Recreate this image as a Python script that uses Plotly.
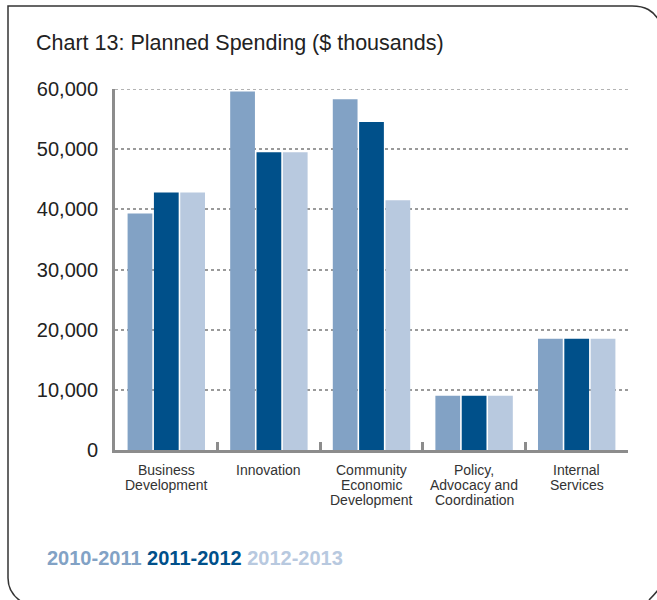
import plotly.graph_objects as go

categories = ["Business<br>Development", "Innovation", "Community<br>Economic<br>Development",
              "Policy,<br>Advocacy and<br>Coordination", "Internal<br>Services"]
series_names = ["2010-2011", "2011-2012", "2012-2013"]
values_2010 = [39300, 59600, 58300, 9000, 18500]
values_2011 = [42800, 49500, 54500, 9000, 18500]
values_2012 = [42800, 49500, 41500, 9000, 18500]
colors = ["#82a2c5", "#00508a", "#b8c9df"]
ytick_vals = [0, 10000, 20000, 30000, 40000, 50000, 60000]
ytick_text = ["0", "10,000", "20,000", "30,000", "40,000", "50,000", "60,000"]

W, H = 657, 600
L, R, T, B = 115, 29, 89, 150
pw, ph = W - L - R, H - T - B

def px(x):
    return (x - L) / pw

def py(y):
    return (H - B - y) / ph

fig = go.Figure()
for name, vals, col in zip(series_names, [values_2010, values_2011, values_2012], colors):
    fig.add_trace(go.Bar(x=categories, y=vals, name=name, marker=dict(color=col, line=dict(width=0))))

path = (
    f"M {px(8)} {py(578)} "
    f"L {px(8)} {py(6)} "
    f"L {px(632)} {py(6)} "
    f"C {px(645)} {py(6)}, {px(653)} {py(10)}, {px(660)} {py(22)} "
    f"M {px(8)} {py(578)} "
    f"C {px(8)} {py(590)}, {px(14)} {py(597)}, {px(22)} {py(602)} "
    f"M {px(649)} {py(600)} "
    f"C {px(652)} {py(597)}, {px(655)} {py(594)}, {px(658)} {py(590)}"
)

annotations = [
    dict(xref="paper", yref="paper", x=px(34), y=py(43), xanchor="left", yanchor="middle",
         text="Chart 13: Planned Spending ($ thousands)", showarrow=False,
         font=dict(size=21.5, color="#222")),
    dict(xref="paper", yref="paper", x=px(45), y=py(558), xanchor="left", yanchor="middle",
         text=(f"<b><span style='color:{colors[0]}'>{series_names[0]}</span> "
               f"<span style='color:{colors[1]}'>{series_names[1]}</span> "
               f"<span style='color:{colors[2]}'>{series_names[2]}</span></b>"),
         showarrow=False, font=dict(size=20)),
]
# category labels, one annotation per line for tight line spacing
for cat in categories:
    for i, line in enumerate(cat.split("<br>")):
        annotations.append(dict(xref="x", yref="paper", x=cat, y=py(469.5 + 15.5 * i),
                                xanchor="center", yanchor="middle", text=line, showarrow=False,
                                font=dict(size=14, color="#333")))

shapes = [
    dict(type="path", xref="paper", yref="paper", path=path,
         line=dict(color="#333", width=1.5), layer="above"),
    dict(type="line", xref="paper", yref="y", x0=0, x1=1, y0=ytick_vals[-1], y1=ytick_vals[-1],
         line=dict(color="#9a9a9a", width=1.5, dash="dot"), layer="below"),
]

fig.update_layout(
    width=W, height=H,
    margin=dict(l=L, r=R, t=T, b=B, pad=0),
    paper_bgcolor="white", plot_bgcolor="white",
    barmode="group", bargap=0.23, bargroupgap=0.06,
    showlegend=False,
    font=dict(family="Liberation Sans, Arial, sans-serif", color="#222"),
    xaxis=dict(
        type="category", showgrid=False, showline=True, linewidth=3, linecolor="#8c8c8c",
        ticks="inside", tickson="boundaries", ticklen=8, tickwidth=3, tickcolor="#8c8c8c",
        showticklabels=False, fixedrange=True,
    ),
    yaxis=dict(
        range=[0, 60000], tickvals=ytick_vals, ticktext=ytick_text,
        showgrid=True, gridcolor="#9a9a9a", griddash="dot", gridwidth=1.5,
        showline=True, linewidth=3, linecolor="#8c8c8c", zeroline=False,
        ticks="", tickfont=dict(size=20, color="#222"), ticklabelstandoff=10,
    ),
    shapes=shapes,
    annotations=annotations,
)

fig.write_html("out.html")
